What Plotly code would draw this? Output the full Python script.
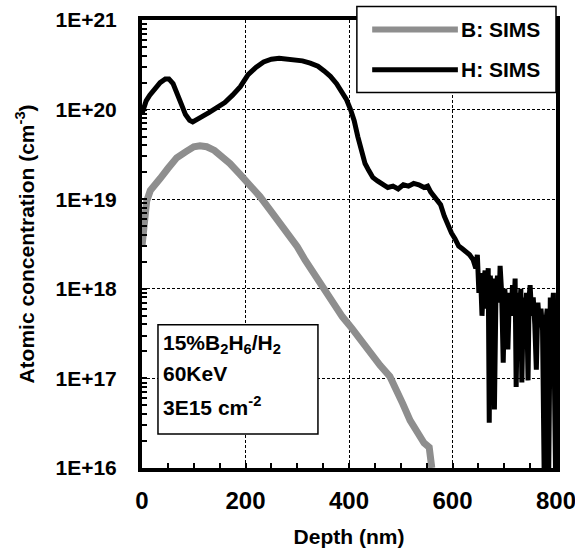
import plotly.graph_objects as go

# ---- data ----
depth_B = [0, 4, 9, 16, 25, 35, 50, 67, 85, 100, 112, 125, 140, 155, 170, 189, 210, 228, 248, 267, 285, 300,
           315, 331, 350, 369, 387, 406, 422, 441, 460, 479, 492, 504, 518, 531, 545, 555, 560]
conc_B = [3.0e18, 6.0e18, 9.5e18, 1.25e19, 1.5e19, 1.7e19, 2.2e19, 2.9e19, 3.4e19, 3.85e19, 3.95e19, 3.85e19,
          3.5e19, 3.0e19, 2.5e19, 1.9e19, 1.4e19, 1.07e19, 7.5e18, 5.4e18, 4.0e18, 2.95e18,
          2.1e18, 1.5e18, 1.0e18, 7.0e17, 4.9e17, 3.6e17, 2.7e17, 1.9e17, 1.4e17, 1.05e17, 7.5e16, 5.2e16,
          3.4e16, 2.5e16, 1.9e16, 1.7e16, 1.0e16]

depth_H = [0, 3, 8, 15, 25, 35, 45, 52, 60, 68, 76, 84, 92, 98, 105, 115, 130, 145, 160, 175, 190, 205, 220,
           235, 250, 265, 280, 295, 310, 325, 340, 352, 364, 376, 386, 395, 403, 410, 417, 424, 431, 438, 446,
           455, 465, 475, 485, 495, 505, 515, 525, 535, 545, 552, 558, 564, 570, 577, 584, 591, 598, 605, 612,
           619, 626, 633, 640, 645,
           648, 651, 654, 657, 660, 663, 666, 669, 671, 673, 676, 679, 681, 684, 687, 690, 692, 695, 698, 701,
           704, 707, 710, 713, 716, 719, 721, 723, 726, 729, 732, 734, 737, 740, 743, 746, 748, 750, 753, 756,
           759, 762, 765, 768, 771, 774, 777, 780, 783, 786, 789, 792, 795, 799]
conc_H = [9.0e19, 1.05e20, 1.25e20, 1.45e20, 1.7e20, 2.0e20, 2.2e20, 2.2e20, 1.95e20, 1.55e20, 1.15e20,
          8.8e19, 7.6e19, 7.3e19, 7.6e19, 8.3e19, 9.3e19, 1.05e20, 1.2e20, 1.45e20, 1.8e20, 2.45e20, 2.95e20,
          3.4e20, 3.65e20, 3.75e20, 3.7e20, 3.6e20, 3.5e20, 3.3e20, 3.05e20, 2.7e20, 2.35e20, 1.95e20, 1.6e20,
          1.3e20, 1.0e20, 7.5e19, 5.0e19, 3.3e19, 2.5e19, 2.1e19, 1.75e19, 1.6e19, 1.45e19, 1.35e19, 1.4e19,
          1.3e19, 1.45e19, 1.4e19, 1.5e19, 1.45e19, 1.35e19, 1.4e19, 1.2e19, 1.1e19, 1.0e19, 8.7e18, 6.5e18,
          5.0e18, 4.2e18, 3.6e18, 3.0e18, 2.8e18, 2.6e18, 2.4e18, 2.1e18, 1.7e18,
          2.4e18, 9.0e17, 1.5e18, 5.0e17, 1.2e18, 1.6e18, 6.0e17, 1.7e18, 3.2e16, 1.4e18, 8.0e17, 1.3e18,
          4.5e16, 9.0e17, 1.4e18, 7.0e17, 1.8e18, 9.0e17, 1.5e17, 1.0e18, 6.0e17, 2.1e17, 9.0e17, 5.0e17,
          1.1e18, 6.0e17, 1.3e18, 8.0e16, 9.0e17, 5.0e17, 1.0e18, 9.0e16, 8.0e17, 4.0e17, 9.0e17, 9.5e16,
          8.0e17, 1.1e18, 5.0e17, 8.0e17, 4.0e17, 1.25e17, 7.0e17, 4.0e17, 6.0e17, 3.5e17, 1.0e16, 4.0e17,
          6.0e17, 1.0e16, 8.0e17, 5.0e17, 9.0e17, 1.0e16]

y_tick_vals = [1e16, 1e17, 1e18, 1e19, 1e20, 1e21]
y_tick_text = ["1E+16", "1E+17", "1E+18", "1E+19", "1E+20", "1E+21"]
y_minor_vals = [float(m) * 10.0 ** e for e in range(16, 21) for m in range(2, 10)]
x_tick_vals = [0, 200, 400, 600, 800]

series_names = ["B: SIMS", "H: SIMS"]
note_lines = ["15%B<sub>2</sub>H<sub>6</sub>/H<sub>2</sub>", "60KeV", "3E15 cm<sup>-2</sup>"]

FONT = "Liberation Sans, Arial, sans-serif"
B_COLOR = "#8e8e8e"


def fnt(size):
    return dict(family=FONT, size=size, color="black", weight="bold")


fig = go.Figure()
fig.add_trace(go.Scatter(x=depth_B, y=conc_B, mode="lines", name=series_names[0],
                         line=dict(color=B_COLOR, width=7), showlegend=False))
fig.add_trace(go.Scatter(x=depth_H, y=conc_H, mode="lines", name=series_names[1],
                         line=dict(color="black", width=5), showlegend=False))

fig.update_layout(
    width=575, height=551,
    margin=dict(l=142, r=19, t=20, b=83),
    paper_bgcolor="white", plot_bgcolor="white",
    font=fnt(21),
)

fig.update_xaxes(
    range=[0, 800], tickvals=x_tick_vals, tickfont=fnt(24), automargin=False,
    ticklabeloverflow="allow",
    showline=True, linewidth=4, linecolor="black", mirror=True,
    showgrid=True, gridcolor="black", gridwidth=1.3, griddash="3px,2px",
    ticks="inside", ticklen=5, tickwidth=1.5, tickcolor="black", ticklabelstandoff=8,
    minor=dict(dtick=50, tick0=0, ticks="inside", ticklen=5, tickwidth=1.5, tickcolor="black", showgrid=False),
    title=dict(text="Depth (nm)", font=fnt(21), standoff=18),
    zeroline=False,
)
fig.update_yaxes(
    type="log", range=[16, 21], tickvals=y_tick_vals, ticktext=y_tick_text, tickfont=fnt(21),
    automargin=False, ticklabeloverflow="allow",
    showline=True, linewidth=4, linecolor="black", mirror=True,
    showgrid=True, gridcolor="black", gridwidth=1.3, griddash="3px,2px",
    ticks="inside", ticklen=5, tickwidth=1.5, tickcolor="black", ticklabelstandoff=17,
    minor=dict(tickvals=y_minor_vals, ticks="inside", ticklen=5, tickwidth=1.5, tickcolor="black", showgrid=False),
    title=dict(text="Atomic concentration (cm<sup>-3</sup>)", font=fnt(21), standoff=16),
    zeroline=False,
)

# legend box (drawn manually to match long line samples)
fig.add_shape(type="rect", xref="paper", yref="paper", x0=0.519, x1=1.0, y0=0.838, y1=1.030,
              line=dict(color="black", width=1.5), fillcolor="white", layer="above")
fig.add_shape(type="line", xref="paper", yref="paper", x0=0.556, x1=0.763, y0=0.979, y1=0.979,
              line=dict(color=B_COLOR, width=6), layer="above")
fig.add_shape(type="line", xref="paper", yref="paper", x0=0.556, x1=0.763, y0=0.889, y1=0.889,
              line=dict(color="black", width=5), layer="above")
fig.add_annotation(xref="paper", yref="paper", x=0.766, y=0.979, text=series_names[0], showarrow=False,
                   xanchor="left", yanchor="middle", font=fnt(21))
fig.add_annotation(xref="paper", yref="paper", x=0.766, y=0.889, text=series_names[1], showarrow=False,
                   xanchor="left", yanchor="middle", font=fnt(21))

# info box
fig.add_shape(type="rect", xref="paper", yref="paper", x0=0.0386, x1=0.425, y0=0.076, y1=0.3196,
              line=dict(color="black", width=1.5), fillcolor="white", layer="above")
for txt, yy in zip(note_lines, [0.276, 0.210, 0.139]):
    fig.add_annotation(xref="paper", yref="paper", x=0.046, y=yy, text=txt, showarrow=False,
                       xanchor="left", yanchor="middle", font=fnt(21))

fig.write_html("out.html", config={"displayModeBar": False},
               post_script="document.body.style.margin='0';")
